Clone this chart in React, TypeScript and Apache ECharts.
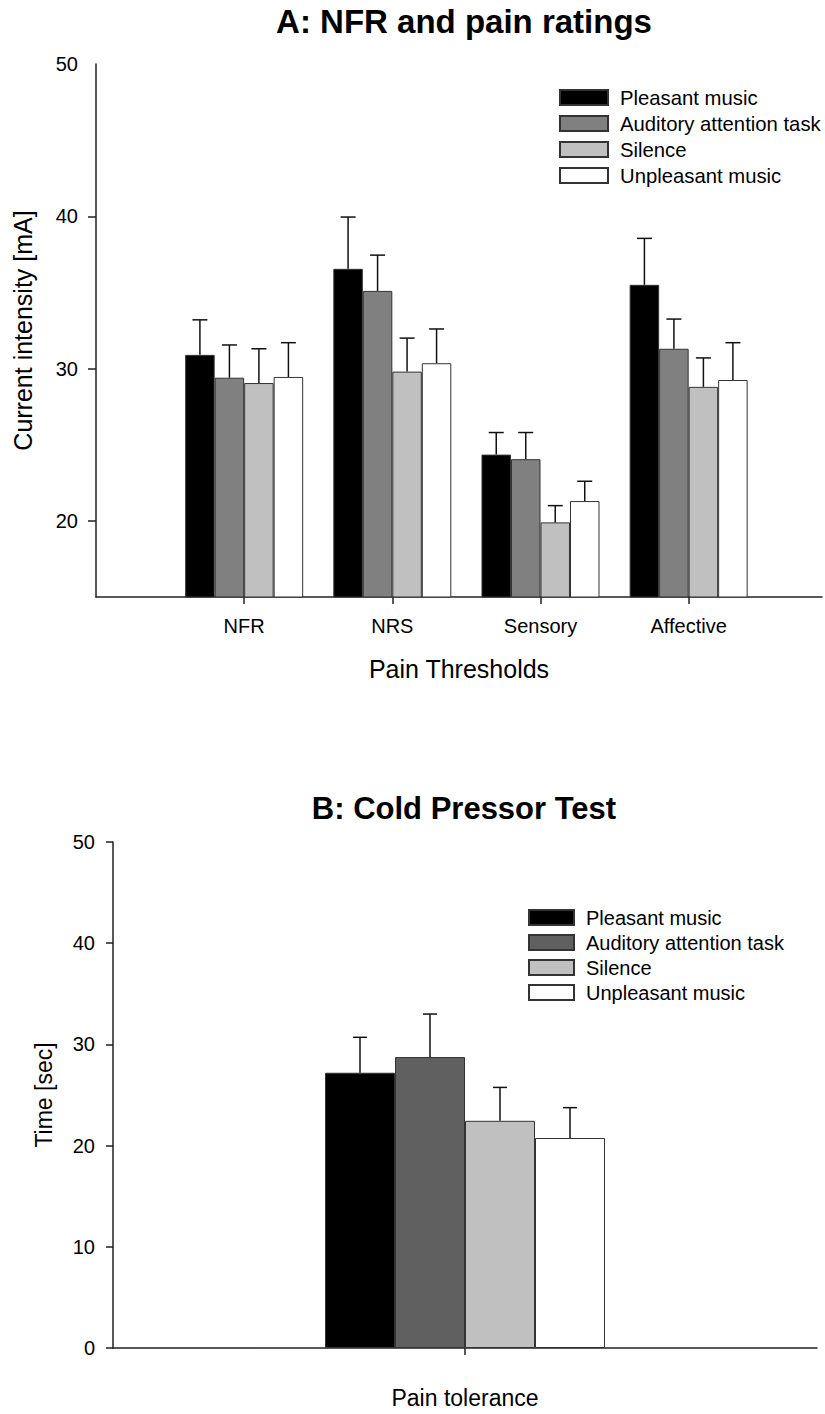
import React, { useEffect, useRef } from "react";
import * as echarts from "echarts";

// ---------- data ----------
const conditionNames = ["Pleasant music", "Auditory attention task", "Silence", "Unpleasant music"];

// Panel A: pain thresholds (current intensity, mA)
const thresholdCategories = ["NFR", "NRS", "Sensory", "Affective"];
const thresholdPositions = [1, 2, 3, 4];
const pleasantA = [30.9, 36.55, 24.35, 35.5];
const pleasantErrA = [2.3, 3.4, 1.45, 3.05];
const auditoryA = [29.4, 35.1, 24.05, 31.3];
const auditoryErrA = [2.15, 2.35, 1.75, 1.95];
const silenceA = [29.05, 29.8, 19.9, 28.8];
const silenceErrA = [2.25, 2.2, 1.1, 1.9];
const unpleasantA = [29.45, 30.35, 21.3, 29.25];
const unpleasantErrA = [2.25, 2.25, 1.3, 2.45];
const yLabelsA = [20, 30, 40, 50];
const yTickMarksA = [20, 30, 40];

// Panel B: cold pressor test (time, sec)
const toleranceCategory = "Pain tolerance";
const tolerancePosition = [1];
const pleasantB = [27.2];
const pleasantErrB = [3.5];
const auditoryB = [28.75];
const auditoryErrB = [4.25];
const silenceB = [22.45];
const silenceErrB = [3.3];
const unpleasantB = [20.75];
const unpleasantErrB = [3.0];

// ---------- styles ----------
const FONT = "'Liberation Sans', Arial, Helvetica, sans-serif";
const AXIS_COLOR = "#222";
const colorsA = ["#000000", "#808080", "#c0c0c0", "#ffffff"];
const colorsB = ["#000000", "#606060", "#c0c0c0", "#ffffff"];

function barSeries(name: string, xs: number[], vals: number[], color: string, barW: number) {
  return {
    type: "bar",
    name,
    data: xs.map((x, i) => [x, vals[i]]),
    barWidth: barW,
    barGap: "0%",
    itemStyle: { color, borderColor: "#333", borderWidth: 1 },
    emphasis: { disabled: true },
    z: 2,
  };
}

function errorSeries(idx: number, xs: number[], vals: number[], errs: number[], barW: number, capW: number) {
  return {
    type: "custom",
    data: xs.map((x, i) => [x, vals[i], errs[i]]),
    encode: { x: 0, y: 1 },
    z: 3,
    silent: true,
    renderItem: (params: any, api: any) => {
      const x = api.value(0);
      const m = api.value(1);
      const e = api.value(2);
      const p0 = api.coord([x, m]);
      const p1 = api.coord([x, m + e]);
      const cx = p0[0] + (idx - 1.5) * barW;
      const st = { stroke: "#111", lineWidth: 1.5 };
      return {
        type: "group",
        children: [
          { type: "line", shape: { x1: cx, y1: p0[1], x2: cx, y2: p1[1] }, style: st },
          { type: "line", shape: { x1: cx - capW / 2, y1: p1[1], x2: cx + capW / 2, y2: p1[1] }, style: st },
        ],
      };
    },
  };
}

function optionA() {
  const barW = 29.5;
  const vals = [pleasantA, auditoryA, silenceA, unpleasantA];
  const errs = [pleasantErrA, auditoryErrA, silenceErrA, unpleasantErrA];
  const series: any[] = [];
  vals.forEach((v, i) => series.push(barSeries(conditionNames[i], thresholdPositions, v, colorsA[i], barW)));
  vals.forEach((v, i) => series.push(errorSeries(i, thresholdPositions, v, errs[i], barW, 15)));
  return {
    animation: false,
    backgroundColor: "#ffffff",
    textStyle: { fontFamily: FONT },
    graphic: [
      {
        type: "text",
        x: 464,
        y: 21,
        style: {
          text: "A: NFR and pain ratings",
          fontSize: 33,
          fontWeight: "bold",
          fontFamily: FONT,
          fill: "#000",
          textAlign: "center",
          textVerticalAlign: "middle",
        },
      },
    ],
    legend: {
      data: conditionNames,
      orient: "vertical",
      left: 559,
      top: 87.5,
      padding: 0,
      itemWidth: 48,
      itemHeight: 15,
      itemGap: 6,
      icon: "rect",
      selectedMode: false,
      textStyle: { fontSize: 20.3, lineHeight: 20, color: "#000", fontFamily: FONT, padding: [0, 0, 0, 7] },
    },
    grid: { left: 96, top: 64, width: 726, height: 533, containLabel: false },
    xAxis: {
      type: "value",
      min: 0,
      max: 4.9,
      splitLine: { show: false },
      axisLine: { onZero: false, lineStyle: { color: AXIS_COLOR, width: 1.5 } },
      axisTick: { customValues: thresholdPositions, length: 7, lineStyle: { color: AXIS_COLOR, width: 1.5 } },
      axisLabel: {
        customValues: thresholdPositions,
        formatter: (v: number) => thresholdCategories[Math.round(v) - 1] ?? "",
        fontSize: 20,
        margin: 19,
        color: "#000",
        fontFamily: FONT,
      },
      name: "Pain Thresholds",
      nameLocation: "middle",
      nameGap: 59,
      nameTextStyle: { fontSize: 25, color: "#000", fontFamily: FONT },
    },
    yAxis: {
      type: "value",
      min: 15,
      max: 50,
      splitLine: { show: false },
      axisLine: { show: true, onZero: false, lineStyle: { color: AXIS_COLOR, width: 1.5 } },
      axisTick: { show: true, customValues: yTickMarksA, length: 8, lineStyle: { color: AXIS_COLOR, width: 1.5 } },
      axisLabel: { customValues: yLabelsA, fontSize: 20, margin: 18, color: "#000", fontFamily: FONT },
      name: "Current intensity [mA]",
      nameLocation: "middle",
      nameGap: 61,
      nameTextStyle: { fontSize: 25, color: "#000", fontFamily: FONT },
    },
    series,
  };
}

function optionB() {
  const barW = 70;
  const vals = [pleasantB, auditoryB, silenceB, unpleasantB];
  const errs = [pleasantErrB, auditoryErrB, silenceErrB, unpleasantErrB];
  const series: any[] = [];
  vals.forEach((v, i) => series.push(barSeries(conditionNames[i], tolerancePosition, v, colorsB[i], barW)));
  vals.forEach((v, i) => series.push(errorSeries(i, tolerancePosition, v, errs[i], barW, 14)));
  return {
    animation: false,
    backgroundColor: "#ffffff",
    textStyle: { fontFamily: FONT },
    graphic: [
      {
        type: "text",
        x: 464,
        y: 88.5,
        style: {
          text: "B: Cold Pressor Test",
          fontSize: 31,
          fontWeight: "bold",
          fontFamily: FONT,
          fill: "#000",
          textAlign: "center",
          textVerticalAlign: "middle",
        },
      },
    ],
    legend: {
      data: conditionNames,
      orient: "vertical",
      left: 528,
      top: 187.6,
      padding: 0,
      itemWidth: 45,
      itemHeight: 15,
      itemGap: 5,
      icon: "rect",
      selectedMode: false,
      textStyle: { fontSize: 20, lineHeight: 20, color: "#000", fontFamily: FONT, padding: [0, 0, 0, 7] },
    },
    grid: { left: 113, top: 122, width: 704, height: 506, containLabel: false },
    xAxis: {
      type: "value",
      min: 0,
      max: 2,
      splitLine: { show: false },
      axisLine: { onZero: false, lineStyle: { color: AXIS_COLOR, width: 1.5 } },
      axisTick: { customValues: tolerancePosition, length: 7, lineStyle: { color: AXIS_COLOR, width: 1.5 } },
      axisLabel: { show: false },
      name: toleranceCategory,
      nameLocation: "middle",
      nameGap: 38,
      nameTextStyle: { fontSize: 23, color: "#000", fontFamily: FONT },
    },
    yAxis: {
      type: "value",
      min: 0,
      max: 50,
      interval: 10,
      splitLine: { show: false },
      axisLine: { show: true, onZero: false, lineStyle: { color: AXIS_COLOR, width: 1.5 } },
      axisTick: { show: true, length: 7, lineStyle: { color: AXIS_COLOR, width: 1.5 } },
      axisLabel: { fontSize: 20, margin: 18, color: "#000", fontFamily: FONT },
      name: "Time [sec]",
      nameLocation: "middle",
      nameGap: 58,
      nameTextStyle: { fontSize: 23, color: "#000", fontFamily: FONT },
    },
    series,
  };
}

function Chart({ top, height, build }: { top: number; height: number; build: () => any }) {
  const ref = useRef<HTMLDivElement>(null);
  useEffect(() => {
    if (!ref.current) return;
    const chart = echarts.init(ref.current, undefined, { renderer: "svg" });
    chart.setOption(build());
    return () => chart.dispose();
  }, [build]);
  return <div ref={ref} style={{ position: "absolute", left: 0, top, width: 825, height }} />;
}

export default function App() {
  return (
    <div style={{ position: "absolute", left: 0, top: 0, width: 825, height: 1414, background: "#fff" }}>
      <Chart top={0} height={720} build={optionA} />
      <Chart top={720} height={694} build={optionB} />
    </div>
  );
}
